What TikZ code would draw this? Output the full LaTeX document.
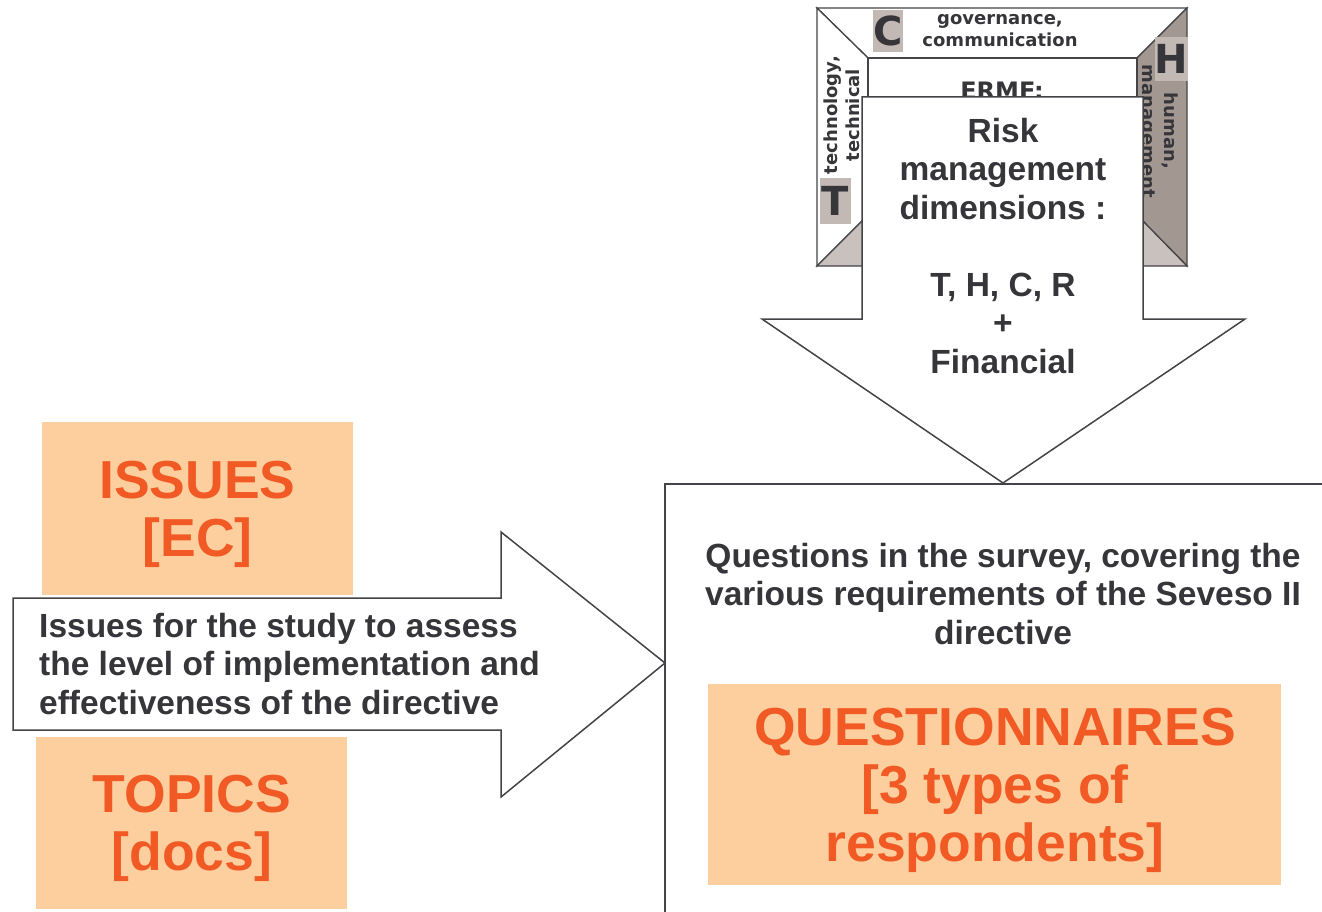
\documentclass[tikz,border=0pt]{standalone}
\usepackage{fontspec}
\setmainfont{Liberation Sans}
\newfontfamily\dejavu{DejaVu Sans}
\definecolor{txt}{HTML}{36363A}
\definecolor{peach}{HTML}{FDCF9E}
\definecolor{orng}{HTML}{F15A24}
\definecolor{dgray}{HTML}{A39792}
\definecolor{lgray}{HTML}{C9C1BD}
\definecolor{lbl}{HTML}{C2B8B4}
\definecolor{edge}{HTML}{444448}
\begin{document}
\begin{tikzpicture}[x=1pt,y=-1pt,
  frm/.style={draw=edge, line width=1.3pt, line join=miter},
  shp/.style={draw=edge, line width=1.5pt, fill=white, line join=miter},
  body/.style={text=txt, font=\bfseries\fontsize{33.5}{38.5}\selectfont, align=center, inner sep=0pt},
  peachbox/.style={fill=peach, inner sep=0pt},
  big/.style={text=orng, font=\bfseries\fontsize{53.5}{58}\selectfont, align=center, inner sep=0pt},
  dv/.style={text=txt, font=\dejavu\bfseries\fontsize{18}{22}\selectfont, align=center, inner sep=0pt},
  letter/.style={fill=lbl, text=txt, font=\dejavu\bfseries\fontsize{40}{40}\selectfont, inner sep=0pt}
]
\useasboundingbox (0,0) rectangle (1322,912);
\fill[white] (0,0) rectangle (1322,912);

% ---- ERMF frame ----
\filldraw[frm, fill=white] (817,8) -- (1187,8) -- (1137,58) -- (868,58) -- cycle;
\filldraw[frm, fill=white] (817,8) -- (868,58) -- (868,215) -- (817,266) -- cycle;
\filldraw[frm, fill=dgray] (1187,8) -- (1137,58) -- (1137,215) -- (1187,266) -- cycle;
\filldraw[frm, fill=lgray] (817,266) -- (868,215) -- (1137,215) -- (1187,266) -- cycle;
\filldraw[frm, fill=white] (868,58) rectangle (1137,215);

\node[letter, minimum width=30pt, minimum height=42pt] (C) at (888,31) {C};
\node[letter, minimum width=31pt, minimum height=46pt] (T) at (835.5,201) {T};
\node[letter, minimum width=31pt, minimum height=44pt] (H) at (1171.5,59) {H};

\node[dv] (gov) at (1000,31) {governance,\\communication};
\node[dv, rotate=90] (tech) at (842,115) {technology,\\technical};
\node[dv, rotate=-90] (hum) at (1158,131) {human,\\management};
\node[text=txt, font=\dejavu\bfseries\fontsize{24}{24}\selectfont, inner sep=0pt] (ermf) at (1002,91) {ERMF:};

% ---- down arrow ----
\filldraw[shp] (862,97) -- (1143,97) -- (1143,319) -- (1245,319) -- (1003,483)
  -- (762,319) -- (862,319) -- cycle;
\node[body] (risk) at (1003,169) {Risk\\management\\dimensions :};
\node[body] (dims) at (1003,323) {T, H, C, R\\+\\Financial};

% ---- questionnaire box ----
\draw[edge, line width=1.5pt] (1330,484) -- (665,484) -- (665,920);
\node[body] (quest) at (1003,594) {Questions in the survey, covering the\\various requirements of the Seveso II\\directive};
\fill[peach] (708,684) rectangle (1281,885);
\node[big] (qn) at (995,790) {QUESTIONNAIRES\\{}[3 types of\\respondents]};

% ---- left boxes ----
\fill[peach] (42,422) rectangle (353,595);
\node[big] (issues) at (197.5,514) {ISSUES\\{}[EC]};
\fill[peach] (36,737) rectangle (347,909);
\node[big] (topics) at (192,828) {TOPICS\\{}[docs]};

% ---- right arrow ----
\filldraw[shp] (13,598) -- (501,598) -- (501,532) -- (665,663) -- (501,797)
  -- (501,730) -- (13,730) -- cycle;
\node[body, align=left, anchor=west] (iss) at (39,664) {Issues for the study to assess\\the level of implementation and\\effectiveness of the directive};
\end{tikzpicture}
\end{document}
